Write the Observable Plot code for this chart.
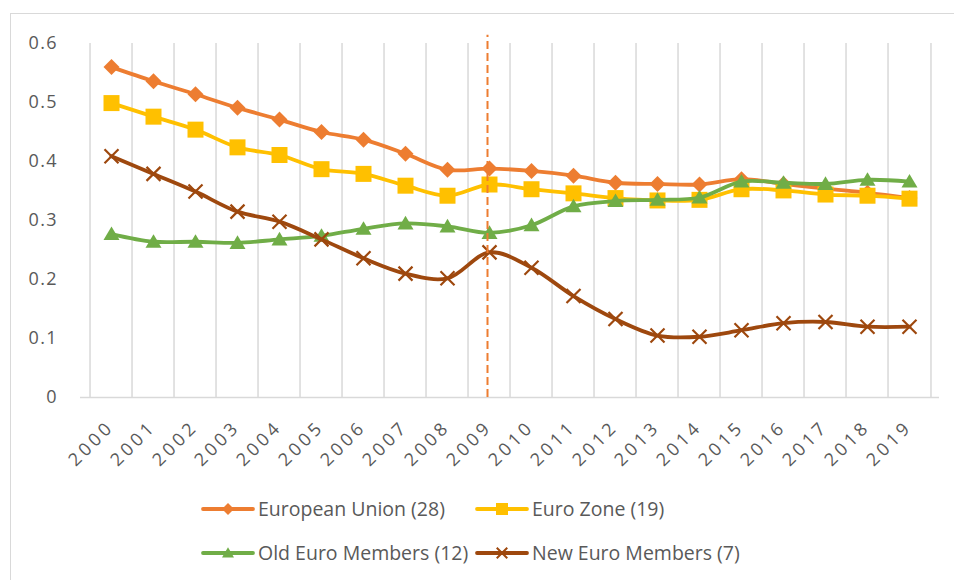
<!DOCTYPE html>
<html><head><meta charset="utf-8">
<script src="https://cdn.jsdelivr.net/npm/d3@7"></script>
<script src="https://cdn.jsdelivr.net/npm/@observablehq/plot@0.6"></script>
<style>
body{margin:0;background:#fff;font-family:"Open Sans",sans-serif;}
#wrap{position:relative;width:954px;height:580px;overflow:hidden;background:#fff;}
#frame{position:absolute;left:10px;top:13px;width:1000px;height:1000px;border-left:1.5px solid #d9d9d9;border-top:1.5px solid #d9d9d9;}
#chart{position:absolute;left:0;top:0;}
#legend{position:absolute;left:0;top:470px;}
</style></head><body>
<div id="wrap"><div id="frame"></div><div id="chart"></div><svg id="legend" width="954" height="110"></svg></div>
<script>
const years = ["2000","2001","2002","2003","2004","2005","2006","2007","2008","2009","2010","2011","2012","2013","2014","2015","2016","2017","2018","2019"];
const seriesNames = ["European Union (28)","Euro Zone (19)","Old Euro Members (12)","New Euro Members (7)"];
const euValues  = [0.560,0.536,0.514,0.491,0.471,0.450,0.437,0.413,0.386,0.388,0.384,0.376,0.364,0.362,0.361,0.370,0.362,0.354,0.347,0.338];
const ezValues  = [0.499,0.476,0.454,0.424,0.411,0.387,0.379,0.359,0.342,0.361,0.353,0.346,0.338,0.334,0.335,0.353,0.351,0.344,0.342,0.337];
const oldValues = [0.277,0.264,0.264,0.262,0.268,0.274,0.286,0.295,0.290,0.279,0.292,0.324,0.333,0.335,0.339,0.366,0.364,0.362,0.369,0.366];
const newValues = [0.409,0.379,0.349,0.315,0.298,0.268,0.236,0.210,0.202,0.246,0.220,0.172,0.133,0.105,0.103,0.114,0.126,0.128,0.120,0.120];
const yTicks = [0,0.1,0.2,0.3,0.4,0.5,0.6];
const markerYear = "2009";
const markerTop = 0.614;

const colors = ["#ED7D31","#FFC000","#70AD47","#9E480E"];
const rad = s => Math.sqrt(s/Math.PI);
const diamond = {draw(c,s){const r=rad(s);c.moveTo(0,-r);c.lineTo(r,0);c.lineTo(0,r);c.lineTo(-r,0);c.closePath();}};
const square = {draw(c,s){const r=rad(s);c.rect(-r,-r,2*r,2*r);}};
const triangle = {draw(c,s){const r=rad(s);c.moveTo(0,-r*0.95);c.lineTo(r,r*0.75);c.lineTo(-r,r*0.75);c.closePath();}};
const cross = {draw(c,s){const r=rad(s);c.moveTo(-r,-r);c.lineTo(r,r);c.moveTo(r,-r);c.lineTo(-r,r);}};
const symbols = [diamond,square,triangle,cross];
const radii = [8,8,8,7];

const allValues = [euValues,ezValues,oldValues,newValues];
const tables = allValues.map((vals,i)=>years.map((y,j)=>({year:y,value:vals[j],series:seriesNames[i]})));

const W=954,H=470,mL=80,mR=15,mT=43,mB=73;
const step=(W-mL-mR)/years.length;
const textColor="#595959";

const marks = [
  Plot.ruleX(years,{x:d=>d,dx:-step/2,y1:0,y2:0.6,stroke:"#d9d9d9",strokeWidth:1.5}),
  Plot.ruleX([years[years.length-1]],{x:d=>d,dx:step/2,y1:0,y2:0.6,stroke:"#d9d9d9",strokeWidth:1.5}),
  Plot.ruleY([0],{stroke:"#d9d9d9",strokeWidth:1.5}),
  Plot.text(yTicks,{y:d=>d,frameAnchor:"left",text:d=>d===0?"0":d.toFixed(1),textAnchor:"end",dx:-24,fontSize:18,fill:textColor}),
  Plot.text(years,{x:d=>d,frameAnchor:"bottom",text:d=>d,rotate:-45,textAnchor:"end",lineAnchor:"middle",dx:-3,dy:29,fontSize:18,fill:textColor})
];
tables.forEach((t,i)=>{
  marks.push(Plot.line(t,{x:"year",y:"value",stroke:colors[i],strokeWidth:3.8,curve:"catmull-rom"}));
  if(i===3){
    marks.push(Plot.dot(t,{x:"year",y:"value",symbol:symbols[i],r:radii[i],stroke:colors[i],strokeWidth:2.2,fill:"none"}));
  } else {
    marks.push(Plot.dot(t,{x:"year",y:"value",symbol:symbols[i],r:radii[i],fill:colors[i],stroke:"none"}));
  }
});
marks.push(Plot.ruleX([markerYear],{x:d=>d,dx:-2,y1:0,y2:markerTop,stroke:"#ED7D31",strokeWidth:2,strokeDasharray:"8,4"}));

const chart = Plot.plot({
  width:W,height:H,marginLeft:mL,marginRight:mR,marginTop:mT,marginBottom:mB,
  style:{fontFamily:"Open Sans",color:textColor,background:"transparent",overflow:"visible"},
  x:{type:"point",domain:years,padding:0.5,axis:null},
  y:{domain:[0,0.6],axis:null},
  clip:false,
  marks
});
const textGroups = d3.select(chart).selectAll('g[aria-label="text"]').nodes();
if (textGroups.length >= 2) {
  d3.select(textGroups[1]).selectAll("text").attr("textLength",52).attr("lengthAdjust","spacing");
  d3.select(textGroups[0]).selectAll("text").filter(function(){return this.textContent.length>1;}).attr("textLength",28).attr("lengthAdjust","spacing");
}
document.getElementById("chart").appendChild(chart);

// legend
const leg = d3.select("#legend");
const items = seriesNames.map((n,i)=>({name:n,i,col:i%2,row:Math.floor(i/2)}));
const colX=[203,477], rowY=[39,83];
items.forEach(it=>{
  const g = leg.append("g").attr("transform",`translate(${colX[it.col]},${rowY[it.row]})`);
  g.append("line").attr("x1",0).attr("x2",50).attr("stroke",colors[it.i]).attr("stroke-width",3.8).attr("stroke-linecap","round");
  const p = d3.path(); symbols[it.i].draw(p, Math.PI*Math.pow(radii[it.i]*0.75,2));
  const s = g.append("path").attr("d",p.toString()).attr("transform","translate(25,0)");
  if(it.i===3) s.attr("fill","none").attr("stroke",colors[it.i]).attr("stroke-width",2);
  else s.attr("fill",colors[it.i]);
  g.append("text").attr("x",55).attr("y",0).attr("dy","0.35em").attr("fill",textColor)
   .attr("font-family","Open Sans").attr("font-size",19.5).text(it.name);
});
</script></body></html>
